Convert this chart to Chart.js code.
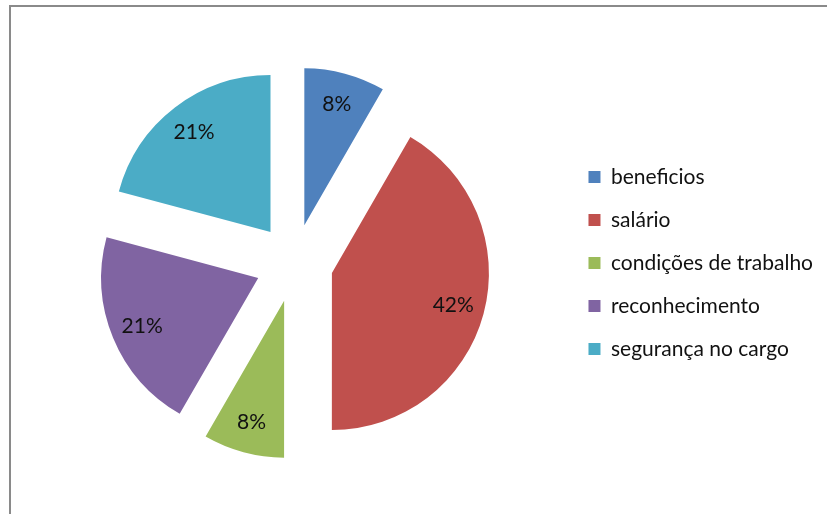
<!DOCTYPE html>
<html>
<head>
<meta charset="utf-8">
<script src="https://cdn.jsdelivr.net/npm/chart.js@4"></script>
<style>
    body
    {
        margin: 0;
        background: #ffffff;
        width: 827px;
        height: 514px;
        overflow: hidden;
        position: relative;
    }
    #rahmen
    {
        position: absolute;
        left: 9px;
        top: 5px;
        width: 840px;
        height: 540px;
        border: 2px solid #8a8a8a;
        box-sizing: border-box;
    }
    #grafik
    {
        position: absolute;
        left: 0;
        top: 0;
    }
</style>
</head>
<body>
<div id="rahmen"></div>
<canvas id="grafik" width="827" height="514"></canvas>

<script>

let kategorien =
[
    "beneficios",
    "salário",
    "condições de trabalho",
    "reconhecimento",
    "segurança no cargo"
];

// Anteile in Prozent
let werte = [8.33, 41.67, 8.33, 20.83, 20.83];

let beschriftungen = ["8%", "42%", "8%", "21%", "21%"];

let farben = ["#4F81BD", "#C0504D", "#9BBB59", "#8064A2", "#4BACC6"];

// wie weit jedes Stück aus der Mitte gezogen wird
const abstand = 39;
const radius = 157;


// zeichnet die Stücke selbst, jeweils entlang der Winkelhalbierenden verschoben
const explodePlugin =
{
    id: "explode",
    beforeDatasetDraw(chart, args)
    {
        const ctx = chart.ctx;

        args.meta.data.forEach(function(arc)
        {
            const mitte = (arc.startAngle + arc.endAngle) / 2;
            ctx.save();
            ctx.translate(Math.cos(mitte) * abstand, Math.sin(mitte) * abstand);
            arc.draw(ctx);
            ctx.restore();
        });

        return false;
    }
};

// Prozentwerte in die Stücke schreiben
const labelPlugin =
{
    id: "prozente",
    afterDatasetsDraw(chart)
    {
        const ctx = chart.ctx;
        const meta = chart.getDatasetMeta(0);

        ctx.save();
        ctx.font = "21px Lato";
        ctx.fillStyle = "#111111";
        ctx.textAlign = "center";
        ctx.textBaseline = "middle";

        meta.data.forEach(function(arc, i)
        {
            const mitte = (arc.startAngle + arc.endAngle) / 2;
            const r = abstand + arc.outerRadius * 0.8;
            ctx.fillText(beschriftungen[i], arc.x + Math.cos(mitte) * r, arc.y + Math.sin(mitte) * r);
        });

        ctx.restore();
    }
};

const config =
{
    type: "pie",
    data:
    {
        labels: kategorien,
        datasets:
        [
            {
                data: werte,
                backgroundColor: farben,
                borderWidth: 0
            }
        ]
    },
    options:
    {
        responsive: false,
        animation: false,
        events: [],
        radius: radius,
        layout:
        {
            padding: { left: 22, top: 12, right: 4, bottom: 0 }
        },
        plugins:
        {
            tooltip: { enabled: false },
            legend:
            {
                position: "right",
                labels:
                {
                    boxWidth: 12,
                    boxHeight: 12,
                    padding: 22,
                    color: "#111111",
                    font: { family: "Lato", size: 21 }
                }
            }
        }
    },
    plugins: [explodePlugin, labelPlugin]
};

new Chart(document.getElementById("grafik"), config);

</script>
</body>
</html>
